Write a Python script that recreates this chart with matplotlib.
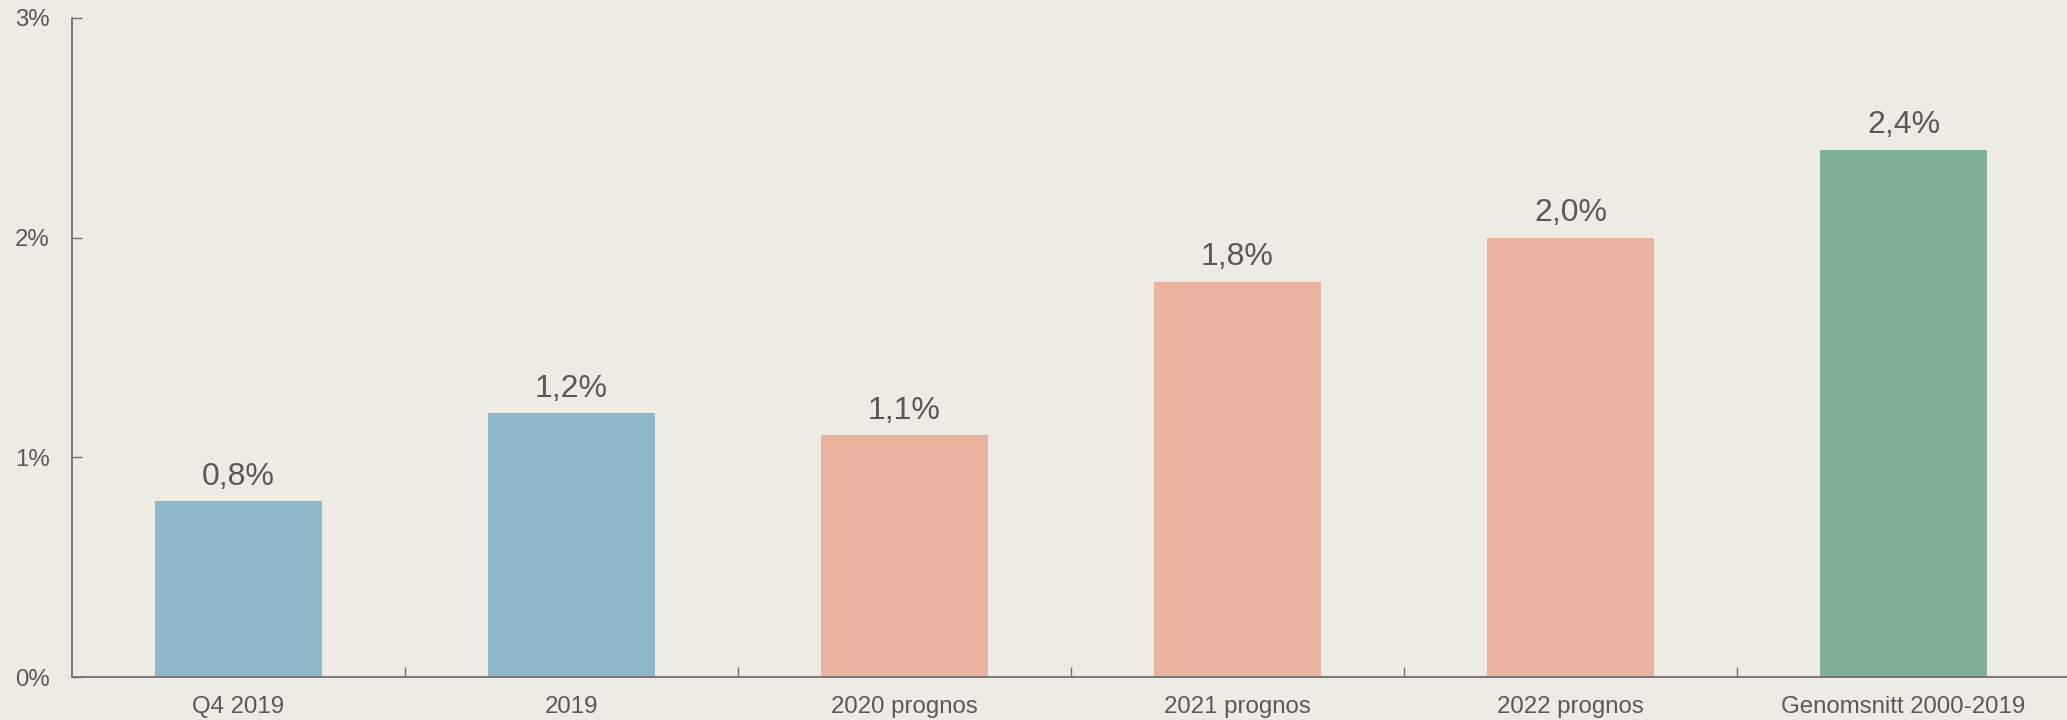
import matplotlib
matplotlib.use("Agg")
import matplotlib.pyplot as plt
import matplotlib.ticker as mticker

# Data
categories = ["Q4 2019", "2019", "2020 prognos", "2021 prognos", "2022 prognos", "Genomsnitt 2000-2019"]
values = [0.8, 1.2, 1.1, 1.8, 2.0, 2.4]
bar_colors = ["#8fb7ca", "#8fb7ca", "#ebb39e", "#ebb39e", "#ebb39e", "#7fb097"]

BG = "#eeebe4"
TXT = "#595959"
AX = "#707070"

plt.rcParams["font.family"] = ["Liberation Sans", "DejaVu Sans"]

fig = plt.figure(figsize=(20.67, 7.2), dpi=100, facecolor=BG)
ax = fig.add_axes([72 / 2067, 43 / 720, 1998 / 2067, 659 / 720], facecolor=BG)

x = range(len(categories))
bars = ax.bar(x, values, width=0.5, color=bar_colors, zorder=2)

for b, v in zip(bars, values):
    ax.annotate(f"{v:.1f}".replace(".", ",") + "%",
                (b.get_x() + b.get_width() / 2, v),
                xytext=(0, 7), textcoords="offset points",
                ha="center", va="bottom", fontsize=23, color=TXT)

ax.set_xlim(-0.5, len(categories) - 0.5)
ax.set_ylim(0, 3)
ax.yaxis.set_major_locator(mticker.MultipleLocator(1))
ax.yaxis.set_major_formatter(mticker.FuncFormatter(lambda v, p: f"{v:.0f}%"))

ax.set_xticks(list(x))
ax.set_xticklabels(categories)
ax.xaxis.set_minor_locator(mticker.FixedLocator([i + 0.5 for i in range(len(categories) - 1)]))

ax.tick_params(axis="x", which="major", length=0, pad=14, labelsize=17.3, labelcolor=TXT)
ax.tick_params(axis="x", which="minor", direction="in", length=7, width=1, color=AX)
ax.tick_params(axis="y", direction="in", length=7, width=1, color=AX, pad=16,
               labelsize=17.3, labelcolor=TXT)

for s in ["top", "right"]:
    ax.spines[s].set_visible(False)
for s in ["left", "bottom"]:
    ax.spines[s].set_color(AX)
    ax.spines[s].set_linewidth(1.3)

fig.savefig("out.png", dpi=100, facecolor=BG)
